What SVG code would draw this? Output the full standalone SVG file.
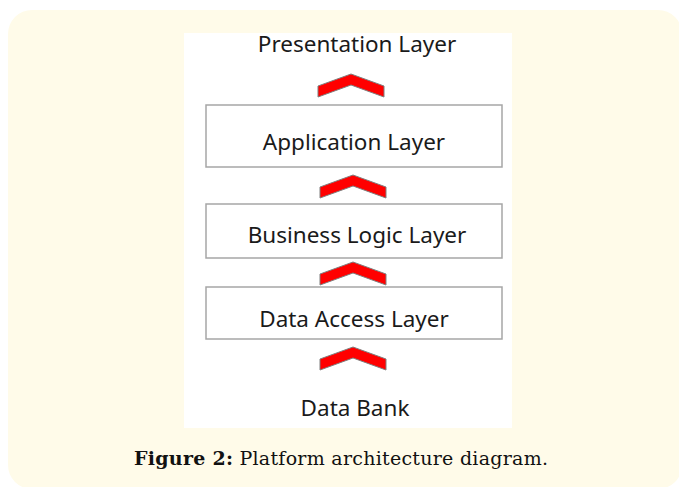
<svg xmlns="http://www.w3.org/2000/svg" width="679" height="487" viewBox="0 0 679 487">
<style>
.lbl{font-family:"Noto Sans","Open Sans",sans-serif;font-size:22.5px;fill:#1a1a1a;text-anchor:middle}
.box{fill:#ffffff;stroke:#a6a6a6;stroke-width:1.5}
.chev{fill:#ff0000;stroke:#7f7f7f;stroke-width:1}
.cap{font-family:"DejaVu Serif","Liberation Serif",serif;font-size:19px;fill:#111}
</style>
<defs>
<polygon id="chevron" class="chev" points="0,12 33,0 66,12 66,23 33,11 0,23"/>
</defs>
<rect x="8" y="10" width="674" height="479" rx="24" fill="#fffbe9"/>
<rect x="184" y="33" width="328" height="395" fill="#ffffff"/>
<g id="presentation"><text class="lbl" x="357" y="52">Presentation Layer</text></g>
<g id="application"><rect class="box" x="206" y="105" width="296" height="62"/><text class="lbl" x="354" y="150">Application Layer</text></g>
<g id="business"><rect class="box" x="206" y="204" width="296" height="54"/><text class="lbl" x="357" y="243">Business Logic Layer</text></g>
<g id="dataaccess"><rect class="box" x="206" y="287" width="296" height="52"/><text class="lbl" x="354" y="327">Data Access Layer</text></g>
<g id="databank"><text class="lbl" x="355" y="416">Data Bank</text></g>
<g id="connectors">
<use href="#chevron" x="318" y="74"/>
<use href="#chevron" x="320" y="175"/>
<use href="#chevron" x="320" y="262"/>
<use href="#chevron" x="320" y="347"/>
</g>
<text class="cap" x="341" y="465" text-anchor="middle" textLength="414" lengthAdjust="spacing"><tspan font-weight="bold">Figure 2:</tspan> Platform architecture diagram.</text>
</svg>
